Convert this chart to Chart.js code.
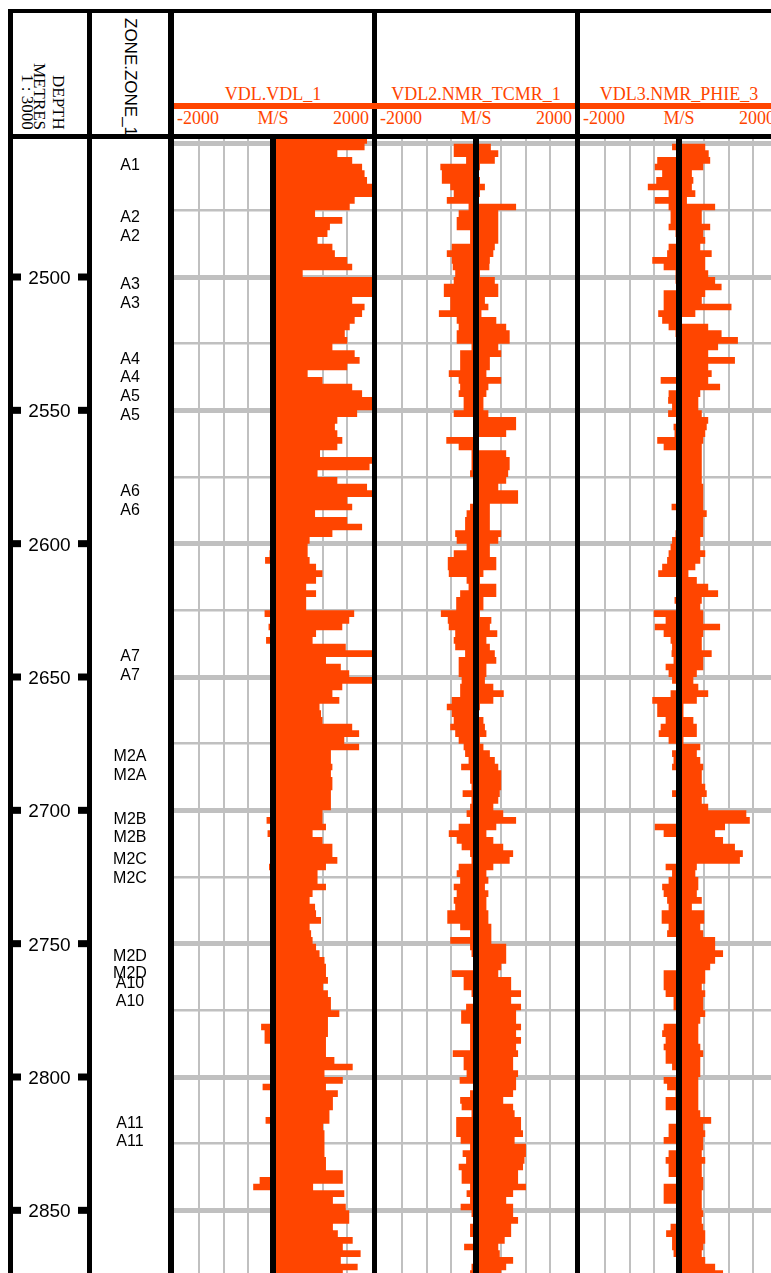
<!DOCTYPE html>
<html>
  <head>
    <title>Well log - VDL tracks</title>
    <script src="https://cdn.jsdelivr.net/npm/chart.js@4.4.1/dist/chart.umd.min.js"></script>
    <style>
      html, body { margin: 0; padding: 0; overflow: hidden; background: #fff; }
      body { width: 771px; height: 1273px; position: relative; }
      .abs { position: absolute; }
      .line { position: absolute; background: #000; }
      .vtxt { position: absolute; writing-mode: vertical-rl; white-space: nowrap; }
      .serif { font-family: "Liberation Serif", "Times New Roman", serif; }
      .sans { font-family: "Liberation Sans", Arial, sans-serif; }
      .orange { color: #ff4500; }
      .hdr { position: absolute; font-size: 18px; line-height: 18px; white-space: nowrap; }
      canvas { position: absolute; top: 139px; }
    </style>
  </head>
  <body>

    <!-- Data tracks -->
    <canvas id="depthTrack" width="74" height="1134" style="left:13px"></canvas>
    <canvas id="zoneTrack" width="76" height="1134" style="left:92px"></canvas>
    <canvas id="track1" width="198" height="1134" style="left:174px"></canvas>
    <canvas id="track2" width="198" height="1134" style="left:377px"></canvas>
    <canvas id="track3" width="198" height="1134" style="left:580px"></canvas>

    <!-- Header: depth -->
    <div class="vtxt serif" style="left:50px; top:13px; width:17px; height:117px; line-height:17px; font-size:17px; text-align:end;">DEPTH</div>
    <div class="vtxt serif" style="left:30.5px; top:13px; width:17px; height:117px; line-height:17px; font-size:17px; text-align:end;">METRES</div>
    <div class="vtxt serif" style="left:19px; top:13px; width:17px; height:117px; line-height:17px; font-size:17px; text-align:end;">1 : 3000</div>

    <!-- Header: zone -->
    <div class="abs" style="left:92px; top:13px; width:76px; height:121px; overflow:hidden;">
      <div class="vtxt sans" style="left:29.5px; top:5px; width:17px; line-height:17px; font-size:17px;">ZONE.ZONE_1</div>
    </div>

    <!-- Header: curve tracks -->
    <div id="headers"></div>

    <!-- Frame lines -->
    <div class="line" style="left:8px; top:9px; width:763px; height:4px;"></div>
    <div class="line" style="left:8px; top:134px; width:763px; height:5px;"></div>
    <div class="line" style="left:8px; top:9px; width:5px; height:1264px;"></div>
    <div class="line" style="left:87px; top:9px; width:5px; height:1264px;"></div>
    <div class="line" style="left:168px; top:9px; width:6px; height:1264px;"></div>
    <div class="line" style="left:372px; top:9px; width:5px; height:1264px;"></div>
    <div class="line" style="left:575px; top:9px; width:5px; height:1264px;"></div>

    <div id="bars"></div>

    <script>
      // Depth sampling of the curves (metres), 2.5 m steps
      const depthStart = 2447.5;
      const depthStep = 2.5;
      const depthCount = 172;
      const depths = Array.from({ length: depthCount }, (_, i) => depthStart + depthStep * i);

      // Visible depth window
      const depthTop = 2448.25;
      const depthBottom = 2873.5;

      // Depth labels and grid
      const depthTicks = [2500, 2550, 2600, 2650, 2700, 2750, 2800, 2850];
      const depthGrid = [2450, 2475, 2500, 2525, 2550, 2575, 2600, 2625, 2650, 2675, 2700, 2725, 2750, 2775, 2800, 2825, 2850, 2875];
      const valueGrid = [-2000, -1500, -1000, -500, 0, 500, 1000, 1500, 2000];

      // Zones
      const zoneNames = ['A1', 'A2', 'A2', 'A3', 'A3', 'A4', 'A4', 'A5', 'A5', 'A6', 'A6', 'A7', 'A7',
        'M2A', 'M2A', 'M2B', 'M2B', 'M2C', 'M2C', 'M2D', 'M2D', 'A10', 'A10', 'A11', 'A11'];
      const zoneDepths = [2457.7, 2477.4, 2484.3, 2502.4, 2509.3, 2530.5, 2537.4, 2544.5, 2551.5, 2579.9, 2587.0,
        2641.8, 2648.9, 2679.3, 2686.4, 2702.9, 2709.6, 2717.9, 2725.0, 2754.3, 2760.6, 2764.4, 2771.1, 2816.9, 2823.6];

      // Track headers
      const trackTitles = ['VDL.VDL_1', 'VDL2.NMR_TCMR_1', 'VDL3.NMR_PHIE_3'];
      const trackUnit = 'M/S';
      const trackMin = -2000;
      const trackMax = 2000;

      // VDL.VDL_1 (left and right edge of the filled band, M/S)
      const vdl1Left = [
        0, 0, 0, 0, 0, 0, 0, 0, 0, 0,
        0, 0, 0, 0, 0, 0, 0, 0, 0, 0,
        0, 0, 0, 0, 0, 0, 0, 0, 0, 0,
        0, 0, 0, 0, 0, 0, 0, 0, 0, 0,
        0, 0, 0, 0, 0, 0, 0, 0, 0, 0,
        0, 0, 0, 0, 0, 0, 0, 0, 0, 0,
        0, 0, -70, -160, 0, 0, 0, 0, 0, 0,
        0, -170, 0, -90, 0, -140, 0, 0, 0, 0,
        0, 0, 0, 0, 0, 0, 0, 0, 0, 0,
        0, 0, 0, 0, 0, 0, 0, 0, 0, 0,
        0, 0, -130, 0, -110, 0, 0, 0, 0, -80,
        0, 0, 0, 0, 0, 0, 0, 0, 0, 0,
        0, 0, 0, 0, 0, 0, 0, 0, 0, 0,
        0, 0, 0, -240, -170, -170, 0, 0, 0, 0,
        0, 0, -210, 0, 0, 0, 0, -150, 0, 0,
        0, 0, 0, 0, 0, 0, -270, -400, 0, 0,
        0, 0, 0, 0, 0, 0, 0, 0, 0, 0,
        0, 0
      ];
      const vdl1Right = [
        1900, 1850, 1300, 1600, 1800, 1850, 1900, 2000, 2000, 1650,
        1550, 850, 1400, 1150, 1100, 900, 1200, 1250, 1500, 1600,
        600, 2000, 2000, 2000, 1600, 1850, 1800, 1650, 1550, 1450,
        1500, 1200, 1650, 1750, 1500, 700, 1000, 1600, 1800, 2000,
        2000, 1700, 1300, 1250, 1300, 1400, 1300, 950, 2000, 1950,
        900, 1300, 1900, 2000, 1500, 1600, 850, 1500, 1800,
        1200, 740, 700, 700, 740, 870, 1000, 870, 670, 870,
        670, 670, 1640, 1540, 1400, 870, 800, 1470, 2000, 1070,
        1370, 1540, 2000, 1400, 1200, 1340, 940, 970, 1000, 1600,
        1740, 1440, 1740, 1170, 1170, 1200, 1170, 1200, 1200, 1170,
        1170, 1170, 1000, 1000, 1070, 800, 1000, 1200, 1200, 1300,
        1070, 900, 900, 1070, 800, 740,
        850, 870, 970, 740, 770, 800, 870, 940, 1040, 1070,
        1070, 1110, 1010, 1110, 1170, 1170, 1340, 1110, 1110, 1110,
        1070, 1070, 1070, 1240, 1610, 1040, 1410, 1070, 1310, 1210,
        1210, 1140, 1140, 1010, 1040, 1040, 1040, 1040, 1070, 1070,
        1410, 1410, 810, 1440, 1210, 1470, 1540, 1540, 1210, 1310,
        1610, 1410, 1770, 1370, 1710, 1410, 1410
      ];

      // VDL2.NMR_TCMR_1
      const vdl2Left = [
        0, -450, -450, -200, -720, -690, -690, -520, -450, -590,
        -150, -350, -390, -390, -120, -120, -490, -590, -490, -470,
        -420, -450, -650, -650, -520, -520, -750, -390, -350, -390,
        -390, -90, -320, -320, -320, -550, -350, -320, -350, -250,
        -250, -450, -50, -50, -50, -600, -350, -90, -90, -90,
        -120, -50, -50, -20, -20, -120, -190, -220, -220,
        -420, -390, -190, -450, -570, -570, -550, -190, -150, -320,
        -400, -400, -710, -570, -550, -420, -450, -420, -220, -350,
        -350, -350, -290, -320, -320, -490, -590, -490, -450, -520,
        -420, -350, -250, -220, -150, -300, -120, -120, -90, -270,
        -90, -120, -190, -120, -350, -550, -390, -290, -120, -90,
        -350, -390, -320, -450, -390, -450,
        -420, -580, -580, -320, -120, -520, -120, -90, -50, 0,
        -490, -250, -250, -90, -50, -200, -300, -300, -120, -120,
        -120, -120, -470, -250, -250, -190, -330, -50, -120, -320,
        -290, -90, -400, -400, -400, -310, -120, -270, -200, -350,
        -290, -290, -120, -190, -120, -310, -90, -50, -120, -120,
        -50, -240, -50, -50, -90, -120, -120
      ];
      const vdl2Right = [
        0, 300, 450, 380, 80, 20, 80, 180, 80, 20,
        810, 450, 450, 450, 450, 450, 380, 350, 280, 270,
        80, 380, 450, 450, 180, 250, 110, 410, 610, 680,
        680, 450, 510, 280, 280, 210, 510, 250, 210, 150,
        150, 250, 810, 810, 610, 0, 30, 610, 680, 680,
        650, 610, 450, 850, 850, 280, 280, 280, 280,
        510, 450, 280, 280, 410, 410, 150, 80, 410, 410,
        150, 150, 80, 310, 280, 430, 210, 280, 380, 410,
        210, 210, 180, 350, 560, 350, 80, 50, 150, 180,
        210, 80, 150, 280, 380, 450, 510, 510, 510, 480,
        450, 350, 550, 810, 410, 210, 350, 550, 750, 680,
        350, 210, 250, 180, 250, 210,
        210, 250, 250, 310, 310, 310, 610, 610, 610, 510,
        450, 710, 710, 910, 710, 910, 810, 810, 910, 810,
        910, 810, 850, 750, 750, 850, 810, 810, 750, 550,
        750, 780, 910, 910, 950, 780, 1010, 1010, 980, 950,
        850, 850, 1010, 750, 610, 750, 750, 850, 710, 710,
        580, 450, 480, 750, 610, 510, 510
      ];

      // VDL3.NMR_PHIE_3
      const vdl3Left = [
        0, -140, 0, -440, -490, -340, -460, -630, -210, -490,
        -210, -170, -170, -210, -70, 0, -210, -240, -540, -310,
        -70, -70, 0, -310, -310, -310, -420, -340, -210, -70,
        0, 0, 0, 0, 0, 0, -370, 0, -210, -220,
        -140, -220, -40, -110, -90, -440, -310, 0, 0, 0,
        0, 0, 0, 0, 0, -150, 0, 0, 0,
        -70, -140, -170, -210, -240, -340, -420, 0, 0, 0,
        -90, 0, -510, -270, -490, -310, -170, -140, -150, -110,
        -270, -210, -140, 0, -170, -540, -440, -440, -270, -370,
        -410, -210, 0, -140, -110, -140, 0, 0, 0, -140,
        0, 0, 0, 0, -490, -310, 0, 0, 0, 0,
        -270, -140, -210, -340, -310, -240,
        -210, -350, -350, -210, -240, 0, 0, 0, 0, 0,
        -310, -310, -310, -270, -110, -110, 0, 0, -310, -340,
        -270, -310, -270, -270, -140, 0, -310, -240, -70, -270,
        -270, 0, 0, -210, -210, -310, 0, -210, -270, -210,
        -210, 0, -310, -310, -310, 0, 0, 0, -170, -260,
        -140, -140, -110, 0, 0, 0, 0
      ];
      const vdl3Right = [
        0, 530, 600, 630, 490, 260, 290, 260, 330, 160,
        730, 460, 460, 630, 490, 530, 430, 660, 530, 530,
        590, 730, 860, 530, 460, 1060, 330, 60, 590, 860,
        1190, 790, 590, 1130, 590, 660, 590, 830, 430, 390,
        390, 460, 590, 560, 530, 490, 460, 460, 460, 460,
        460, 460, 490, 490, 490, 490, 560, 490, 490,
        490, 430, 430, 530, 430, 330, 190, 360, 590, 790,
        460, 430, 490, 490, 830, 490, 460, 460, 660, 490,
        490, 360, 290, 390, 590, 360, 90, 90, 290, 360,
        360, 90, 430, 360, 430, 490, 460, 460, 530, 560,
        460, 590, 1360, 1430, 930, 730, 890, 1130, 1290, 1230,
        360, 330, 390, 390, 360, 460,
        260, 510, 510, 430, 490, 730, 730, 890, 730, 630,
        530, 530, 460, 530, 490, 490, 530, 430, 390, 390,
        390, 430, 490, 430, 430, 430, 390, 390, 390, 390,
        390, 430, 650, 490, 530, 490, 490, 460, 530, 460,
        460, 490, 490, 460, 460, 460, 490, 460, 490, 530,
        530, 490, 460, 530, 730, 890, 890
      ];

      const ORANGE = '#ff4500';
      const GRID = '#c0c0c0';

      // Header boxes for the three curve tracks
      const trackLefts = [174, 377, 580];
      const trackWidth = 198;
      const headers = document.getElementById('headers');
      const bars = document.getElementById('bars');
      trackTitles.forEach((title, i) => {
        const l = trackLefts[i];
        headers.insertAdjacentHTML('beforeend',
          '<div class="hdr serif orange" style="left:' + l + 'px; top:85px; width:' + trackWidth + 'px; text-align:center;">' + title + '</div>' +
          '<div class="hdr serif orange" style="left:' + (l + 3) + 'px; top:109px;">' + trackMin + '</div>' +
          '<div class="hdr serif orange" style="left:' + l + 'px; top:109px; width:' + trackWidth + 'px; text-align:center;">' + trackUnit + '</div>' +
          '<div class="hdr serif orange" style="left:' + l + 'px; top:109px; width:' + (trackWidth - 3) + 'px; text-align:right;">' + trackMax + '</div>');
        const w = i === 0 ? trackWidth + 5 : trackWidth;
        bars.insertAdjacentHTML('beforeend',
          '<div class="abs" style="background:' + ORANGE + '; left:' + l + 'px; top:103px; width:' + w + 'px; height:6px;"></div>');
      });

      const hiddenX = { type: 'linear', display: false, min: 0, max: 1 };
      const depthY = { type: 'linear', display: false, reverse: true, min: depthTop, max: depthBottom };
      const baseOptions = {
        responsive: false,
        animation: false,
        events: [],
        layout: { padding: 0 },
        plugins: { legend: { display: false }, tooltip: { enabled: false } }
      };

      // Depth track: labels and tick marks
      new Chart(document.getElementById('depthTrack'), {
        type: 'scatter',
        data: { datasets: [] },
        options: Object.assign({}, baseOptions, { scales: { x: hiddenX, y: depthY } }),
        plugins: [{
          id: 'depthLabels',
          afterDraw(chart) {
            const ctx = chart.ctx;
            const y = chart.scales.y;
            ctx.save();
            ctx.fillStyle = '#000';
            ctx.font = '19px "Liberation Sans", Arial, sans-serif';
            ctx.textAlign = 'center';
            ctx.textBaseline = 'alphabetic';
            depthTicks.forEach(d => {
              const py = y.getPixelForValue(d);
              ctx.fillRect(0, py - 3.5, 8, 7);
              ctx.fillRect(65, py - 3.5, 9, 7);
              ctx.fillText(String(d), 36.5, py + 7);
            });
            ctx.restore();
          }
        }]
      });

      // Zone track: zone names
      new Chart(document.getElementById('zoneTrack'), {
        type: 'scatter',
        data: { datasets: [] },
        options: Object.assign({}, baseOptions, { scales: { x: hiddenX, y: depthY } }),
        plugins: [{
          id: 'zoneLabels',
          afterDraw(chart) {
            const ctx = chart.ctx;
            const y = chart.scales.y;
            ctx.save();
            ctx.fillStyle = '#000';
            ctx.font = '16px "Liberation Sans", Arial, sans-serif';
            ctx.textAlign = 'center';
            ctx.textBaseline = 'alphabetic';
            zoneNames.forEach((name, i) => {
              ctx.fillText(name, 38, y.getPixelForValue(zoneDepths[i]) + 5.7);
            });
            ctx.restore();
          }
        }]
      });

      // Curve tracks: band filled between left and right edge, black zero line on top
      function trackChart(id, left, right) {
        new Chart(document.getElementById(id), {
          type: 'line',
          data: {
            datasets: [
              {
                data: [{ x: 0, y: depthTop - 5 }, { x: 0, y: depthBottom + 5 }],
                borderColor: '#000', borderWidth: 6, pointRadius: 0, fill: false
              },
              {
                data: depths.map((d, i) => ({ x: left[i], y: d })),
                borderWidth: 0, borderColor: 'rgba(0,0,0,0)', pointRadius: 0, stepped: 'after', fill: false
              },
              {
                data: depths.map((d, i) => ({ x: right[i], y: d })),
                borderWidth: 0, borderColor: 'rgba(0,0,0,0)', pointRadius: 0, stepped: 'after',
                fill: '-1', backgroundColor: ORANGE
              }
            ]
          },
          options: Object.assign({}, baseOptions, {
            indexAxis: 'y',
            scales: {
              x: {
                type: 'linear', min: trackMin, max: trackMax,
                border: { display: false },
                ticks: { display: false },
                afterBuildTicks: s => { s.ticks = valueGrid.map(v => ({ value: v })); },
                grid: {
                  drawTicks: false,
                  lineWidth: 2,
                  color: c => (Math.abs(c.tick.value) === trackMax ? 'rgba(0,0,0,0)' : GRID)
                }
              },
              y: {
                type: 'linear', reverse: true, min: depthTop, max: depthBottom,
                border: { display: false },
                ticks: { display: false },
                afterBuildTicks: s => { s.ticks = depthGrid.map(v => ({ value: v })); },
                grid: {
                  drawTicks: false,
                  color: GRID,
                  lineWidth: c => (c.tick.value % 50 === 0 ? 5 : 2.5)
                }
              }
            }
          })
        });
      }

      trackChart('track1', vdl1Left, vdl1Right);
      trackChart('track2', vdl2Left, vdl2Right);
      trackChart('track3', vdl3Left, vdl3Right);
    </script>
  </body>
</html>
